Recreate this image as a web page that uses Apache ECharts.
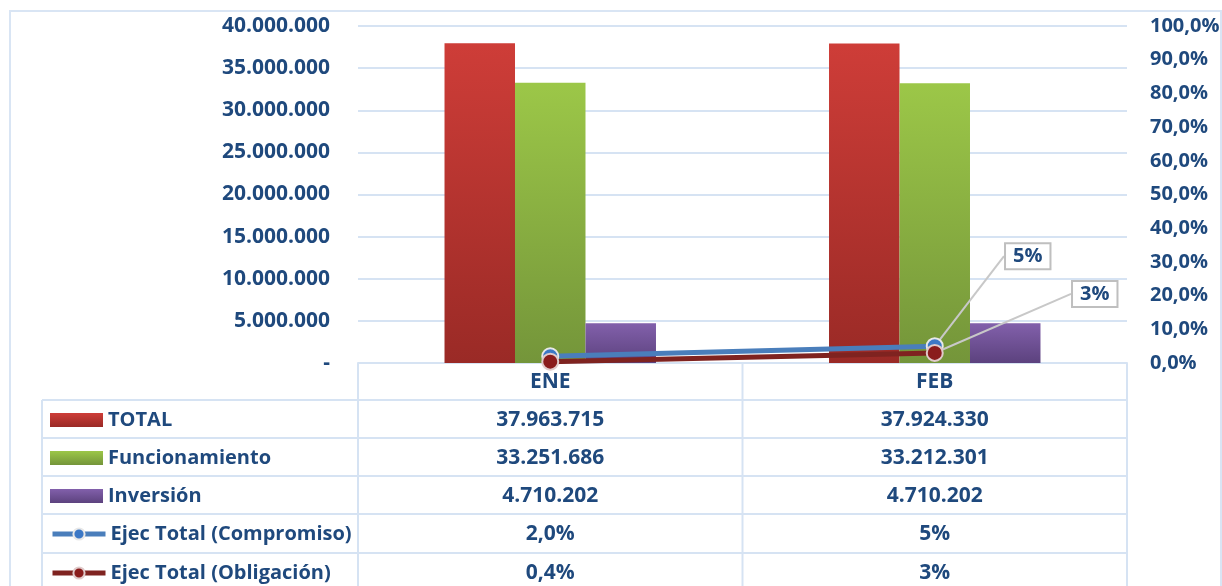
<!DOCTYPE html>
<html>
<head>
<meta charset="utf-8">
<script src="https://cdn.jsdelivr.net/npm/echarts@6/dist/echarts.min.js"></script>
<style>
html,body{margin:0;padding:0;background:#fff;overflow:hidden;}
#c{width:1222px;height:586px;}
</style>
</head>
<body>
<div id="c"></div>
<script>
const categories = ['ENE', 'FEB'];
const totalValues = [37963715, 37924330];
const funcValues = [33251686, 33212301];
const invValues = [4710202, 4710202];
const compromisoValues = [2.0, 5];
const obligacionValues = [0.4, 3];
const compromisoLabels = ['2,0%', '5%'];
const obligacionLabels = ['0,4%', '3%'];
const seriesNames = ['TOTAL', 'Funcionamiento', 'Inversión', 'Ejec Total (Compromiso)', 'Ejec Total (Obligación)'];

const FONT = 'Open Sans';
const TXT = '#1F497D';
const GRIDC = '#D6E3F3';

function fmtNum(v) {
  if (v === 0) return '-';
  return String(Math.round(v)).replace(/\B(?=(\d{3})+(?!\d))/g, '.');
}
function fmtPct(v) { return v.toFixed(1).replace('.', ',') + '%'; }
function grad(top, bottom) {
  return new echarts.graphic.LinearGradient(0, 0, 0, 1, [{offset: 0, color: top}, {offset: 1, color: bottom}]);
}

const chart = echarts.init(document.getElementById('c'), null, {renderer: 'canvas'});

const labelStyle = {fontFamily: FONT, fontWeight: 'bold', fontSize: 21, color: TXT};
const barShadow = {shadowBlur: 4, shadowColor: 'rgba(0,0,0,0.18)', shadowOffsetX: 1, shadowOffsetY: 0};

const rowTops = [400, 438, 476, 514, 553];
const legendLine = [null, null, null, {width: 5, color: '#4A7EBB'}, {width: 5, color: '#7F2320'}];
const legends = seriesNames.map((n, i) => ({
  data: [i < 3 ? {name: n, icon: 'rect'} : {name: n, lineStyle: legendLine[i]}],
  left: 50, top: rowTops[i] + 9, padding: 0, itemWidth: 53, itemHeight: 14, itemGap: 0,
  textStyle: {fontFamily: FONT, fontWeight: 'bold', fontSize: 20, lineHeight: 22, color: TXT},
  selectedMode: false
}));

const option = {
  animation: false,
  backgroundColor: '#fff',
  grid: {left: 358, right: 95, top: 26, bottom: 223, containLabel: false, outerBoundsMode: 'none'},
  legend: legends,
  xAxis: {
    type: 'category', data: categories,
    axisLine: {show: true, lineStyle: {color: GRIDC, width: 2}},
    axisTick: {show: false},
    axisLabel: Object.assign({}, labelStyle, {margin: 9})
  },
  yAxis: [{
    type: 'value', min: 0, max: 40000000, interval: 5000000,
    axisLine: {show: false}, axisTick: {show: false},
    splitLine: {lineStyle: {color: GRIDC, width: 2}},
    axisLabel: Object.assign({}, labelStyle, {margin: 28, formatter: fmtNum})
  }, {
    type: 'value', min: 0, max: 100, interval: 10, position: 'right',
    axisLine: {show: false}, axisTick: {show: false}, splitLine: {show: false},
    axisLabel: Object.assign({}, labelStyle, {fontSize: 20, margin: 23, formatter: fmtPct})
  }],
  series: [
    {name: seriesNames[0], type: 'bar', data: totalValues, barGap: '0%', barCategoryGap: '45%',
      itemStyle: Object.assign({color: grad('#CE3D38', '#9A2A26')}, barShadow)},
    {name: seriesNames[1], type: 'bar', data: funcValues,
      itemStyle: Object.assign({color: grad('#9CC748', '#74953A')}, barShadow)},
    {name: seriesNames[2], type: 'bar', data: invValues,
      itemStyle: Object.assign({color: grad('#8260AB', '#5C427E')}, barShadow)},
    {name: seriesNames[3], type: 'line', yAxisIndex: 1, z: 5,
      data: compromisoValues.map((v, i) => i === 1 ? {value: v, label: {show: true}} : v),
      symbol: 'circle', symbolSize: 16,
      lineStyle: {color: '#4A7EBB', width: 5},
      itemStyle: {color: '#3C78C6', borderColor: '#E8E8E8', borderWidth: 2},
      label: {show: false, position: 'inside', formatter: (p) => compromisoLabels[p.dataIndex],
        fontFamily: FONT, fontWeight: 'bold', fontSize: 20, color: TXT,
        backgroundColor: '#fff', borderColor: '#BFBFBF', borderWidth: 2, padding: [3, 7, 1, 7]},
      labelLine: {show: true, lineStyle: {color: '#C8C8C8', width: 2}},
      labelLayout: {dx: 93, dy: -90}
    },
    {name: seriesNames[4], type: 'line', yAxisIndex: 1, z: 6,
      data: obligacionValues.map((v, i) => i === 1 ? {value: v, label: {show: true}} : v),
      symbol: 'circle', symbolSize: 16,
      lineStyle: {color: '#7F2320', width: 5},
      itemStyle: {color: '#8A1C1C', borderColor: '#E0CACA', borderWidth: 2},
      label: {show: false, position: 'inside', formatter: (p) => obligacionLabels[p.dataIndex],
        fontFamily: FONT, fontWeight: 'bold', fontSize: 20, color: TXT,
        backgroundColor: '#fff', borderColor: '#BFBFBF', borderWidth: 2, padding: [3, 7, 1, 7]},
      labelLine: {show: true, lineStyle: {color: '#C8C8C8', width: 2}},
      labelLayout: {dx: 160, dy: -59}
    }
  ]
};
chart.setOption(option);

// Data table drawn from the arrays, placed by the chart's own scales
const colX = categories.map(c => chart.convertToPixel({xAxisIndex: 0}, c));
const axisY = 363, tableBottom = 600;
const half = (colX[1] - colX[0]) / 2;
const colEdges = [colX[0] - half, colX[0] + half, colX[1] + half];
const rowTexts = [
  totalValues.map(fmtNum),
  funcValues.map(fmtNum),
  invValues.map(fmtNum),
  compromisoLabels,
  obligacionLabels
];
const g = [];
const lineSty = {stroke: GRIDC, lineWidth: 2};
g.push({type: 'rect', shape: {x: 10, y: 11, width: 1211, height: 620}, style: {fill: null, stroke: '#D9E5F4', lineWidth: 2}, z: -1});
rowTops.forEach(y => g.push({type: 'line', shape: {x1: 42, y1: y, x2: colEdges[2], y2: y}, style: lineSty}));
colEdges.forEach(x => g.push({type: 'line', shape: {x1: x, y1: axisY, x2: x, y2: tableBottom}, style: lineSty}));
g.push({type: 'line', shape: {x1: 42, y1: rowTops[0], x2: 42, y2: tableBottom}, style: lineSty});
rowTexts.forEach((row, r) => {
  row.forEach((t, c) => {
    g.push({type: 'text', x: colX[c], y: rowTops[r] + 20, style: {
      text: t, fill: TXT, font: 'bold 21px "' + FONT + '"', textAlign: 'center', textVerticalAlign: 'middle'}});
  });
});
chart.setOption({graphic: g});
</script>
</body>
</html>
